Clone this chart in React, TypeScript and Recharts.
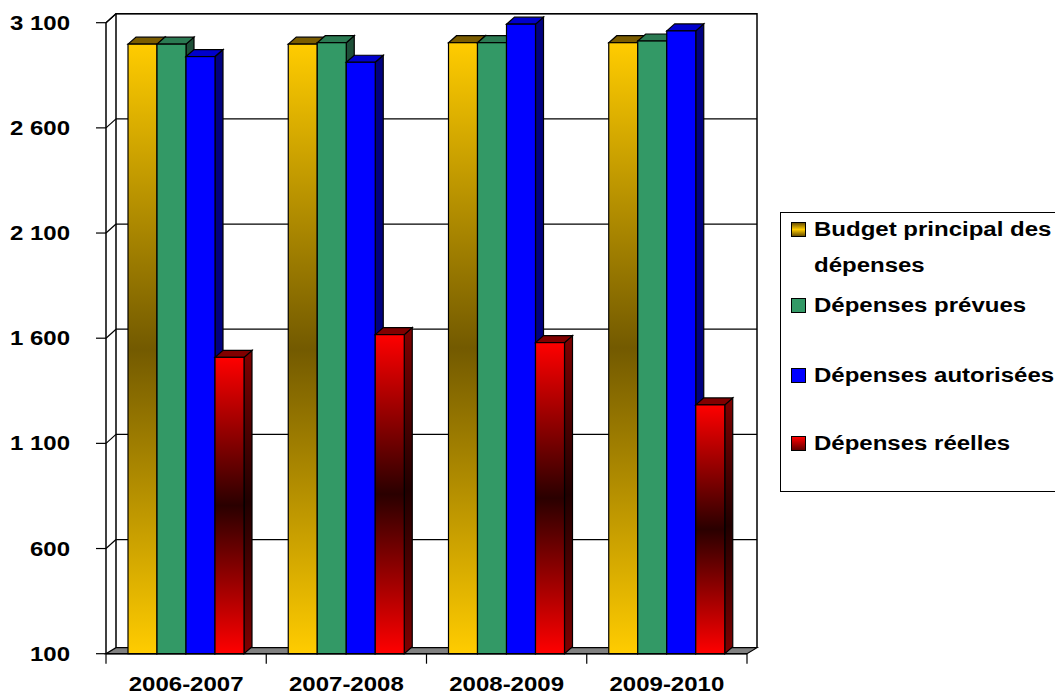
import React from "react";
import { BarChart, Bar, XAxis, YAxis, CartesianGrid, ReferenceArea } from "recharts";

const CATEGORIES = ["2006-2007", "2007-2008", "2008-2009", "2009-2010"];
const BUDGET = [2998, 2998, 3005, 3005];
const PREVUES = [2998, 3005, 3005, 3013];
const AUTORISEES = [2939, 2912, 3093, 3061];
const REELLES = [1509, 1617, 1579, 1283];
const Y_TICKS = [100, 600, 1100, 1600, 2100, 2600, 3100];

const SERIES = [
  {
    key: "budget",
    name: "Budget principal des\ndépenses",
    front: ["#FFCC00", "#735A00", "#FFCC00"],
    top: "#7A5C00",
    side: ["#806000", "#3A2A00", "#806000"],
    swatch: "linear-gradient(#6B5000, #FFCC00, #6B5000)",
  },
  {
    key: "prevues",
    name: "Dépenses prévues",
    front: ["#339966", "#339966", "#339966"],
    top: "#2B7A52",
    side: ["#1E5038", "#1E5038", "#1E5038"],
    swatch: "#339966",
  },
  {
    key: "autorisees",
    name: "Dépenses autorisées",
    front: ["#0000FF", "#0000FF", "#0000FF"],
    top: "#0000CC",
    side: ["#000080", "#000080", "#000080"],
    swatch: "#0000FF",
  },
  {
    key: "reelles",
    name: "Dépenses réelles",
    front: ["#FF0000", "#2A0000", "#FF0000"],
    top: "#800000",
    side: ["#800000", "#200000", "#800000"],
    swatch: "linear-gradient(#FF0000, #600000)",
  },
];

const data = CATEGORIES.map((c, i) => ({
  name: c,
  budget: BUDGET[i],
  prevues: PREVUES[i],
  autorisees: AUTORISEES[i],
  reelles: REELLES[i],
}));

const FONT = "'Liberation Sans', Arial, sans-serif";
const SX = 1.2; // text in the original is stretched horizontally
const DX = 10; // back wall depth
const DY = 9;
const FLOOR_DY = 6;
const BD = 8; // bar depth
const BE = 7;

const fmt = (v: number) => String(v).replace(/\B(?=(\d{3})+(?!\d))/g, " ");

function makeBarShape(s: (typeof SERIES)[number]) {
  return (props: any) => {
    const { x, y, width: w, height: h } = props;
    if (w == null || h == null) return null;
    return (
      <g>
        <defs>
          <linearGradient id={`front-${s.key}`} x1="0" y1="0" x2="0" y2="1">
            <stop offset="0%" stopColor={s.front[0]} />
            <stop offset="50%" stopColor={s.front[1]} />
            <stop offset="100%" stopColor={s.front[2]} />
          </linearGradient>
          <linearGradient id={`side-${s.key}`} x1="0" y1="0" x2="0" y2="1">
            <stop offset="0%" stopColor={s.side[0]} />
            <stop offset="50%" stopColor={s.side[1]} />
            <stop offset="100%" stopColor={s.side[2]} />
          </linearGradient>
        </defs>
        <polygon
          points={`${x + w},${y} ${x + w + BD},${y - BE} ${x + w + BD},${y + h - BE} ${x + w},${y + h}`}
          fill={`url(#side-${s.key})`}
          stroke="#000"
          strokeWidth={1.2}
        />
        <polygon
          points={`${x},${y} ${x + BD},${y - BE} ${x + w + BD},${y - BE} ${x + w},${y}`}
          fill={s.top}
          stroke="#000"
          strokeWidth={1.2}
        />
        <rect x={x} y={y} width={w} height={h} fill={`url(#front-${s.key})`} stroke="#000" strokeWidth={1.2} />
      </g>
    );
  };
}

const BackWall = (props: any) => {
  const { x, y, width: w, height: h } = props;
  const bottom = y + h;
  return (
    <g>
      <path
        d={`M${x + DX},${bottom - FLOOR_DY} L${x + DX},${y - DY} L${x + w + DX},${y - DY} L${x + w + DX},${bottom - FLOOR_DY}`}
        fill="none"
        stroke="#000"
        strokeWidth={1.5}
      />
      <line x1={x} y1={y} x2={x + DX} y2={y - DY} stroke="#000" strokeWidth={1.2} />
      <polygon
        points={`${x},${bottom} ${x + w},${bottom} ${x + w + DX},${bottom - FLOOR_DY} ${x + DX},${bottom - FLOOR_DY}`}
        fill="#808080"
        stroke="#000"
        strokeWidth={1.2}
      />
    </g>
  );
};

const GridLine = (props: any) => {
  const { x1, y1, x2, index } = props;
  if (index === 0) return <g key={props.key} />;
  return (
    <g key={props.key}>
      <line x1={x1 + DX} y1={y1 - DY} x2={x2 + DX} y2={y1 - DY} stroke="#000" strokeWidth={1.2} />
      <line x1={x1} y1={y1} x2={x1 + DX} y2={y1 - DY} stroke="#000" strokeWidth={1.2} />
    </g>
  );
};

const YTick = (props: any) => {
  const { x, y, payload } = props;
  return (
    <g transform={`translate(${x},${y})`}>
      <text transform={`scale(${SX},1)`} textAnchor="end" dy={7} fontFamily={FONT} fontWeight="bold" fontSize={20} fill="#000">
        {fmt(payload.value)}
      </text>
    </g>
  );
};

const XTick = (props: any) => {
  const { x, y, payload, index, visibleTicksCount } = props;
  const half = payload.offset || 80;
  const last = index === (visibleTicksCount ?? CATEGORIES.length) - 1;
  return (
    <g>
      <line x1={x - half} y1={y - 10} x2={x - half} y2={y} stroke="#000" strokeWidth={1.2} />
      {last && <line x1={x + half} y1={y - 10} x2={x + half} y2={y} stroke="#000" strokeWidth={1.2} />}
      <g transform={`translate(${x},${y})`}>
        <text transform={`scale(${SX},1)`} textAnchor="middle" dy={27.5} fontFamily={FONT} fontWeight="bold" fontSize={20} fill="#000">
          {payload.value}
        </text>
      </g>
    </g>
  );
};

const LEGEND_TOPS = [-2, 74, 144, 212];

function ChartLegend() {
  return (
    <div
      style={{
        position: "absolute",
        left: 780,
        top: 212,
        width: 300,
        height: 280,
        border: "1px solid #000",
        boxSizing: "border-box",
        fontFamily: FONT,
        fontWeight: "bold",
        fontSize: 20,
        lineHeight: "36px",
        color: "#000",
      }}
    >
      {SERIES.map((s, i) => (
        <div key={s.key} style={{ position: "absolute", left: 0, top: LEGEND_TOPS[i] }}>
          <div
            style={{
              position: "absolute",
              left: 10,
              top: 11,
              width: 13,
              height: 13,
              background: s.swatch,
              border: "1px solid #000",
            }}
          />
          <div
            style={{
              position: "absolute",
              left: 33,
              top: 0,
              whiteSpace: "pre",
              transform: `scaleX(${SX})`,
              transformOrigin: "left top",
            }}
          >
            {s.name}
          </div>
        </div>
      ))}
    </div>
  );
}

export default function App() {
  return (
    <div
      style={{
        position: "absolute",
        left: 0,
        top: 0,
        width: 1055,
        height: 696,
        overflow: "hidden",
        background: "#fff",
      }}
    >
      <BarChart
        width={1055}
        height={696}
        data={data}
        margin={{ top: 22.7, right: 308, bottom: 0, left: 0 }}
        barCategoryGap={22}
        barGap={0}
      >
        <ReferenceArea y1={100} y2={3100} shape={BackWall} />
        <CartesianGrid vertical={false} horizontal={GridLine} />
        <XAxis
          dataKey="name"
          height={42.3}
          tickLine={false}
          tickSize={10}
          tickMargin={0}
          axisLine={{ stroke: "#000", strokeWidth: 1.5 }}
          tick={<XTick />}
          interval={0}
        />
        <YAxis
          width={106}
          domain={[100, 3100]}
          ticks={Y_TICKS}
          interval={0}
          tickSize={10}
          tickMargin={26}
          tickLine={{ stroke: "#000", strokeWidth: 1.2 }}
          axisLine={{ stroke: "#000", strokeWidth: 1.5 }}
          tick={<YTick />}
        />
        {SERIES.map((s) => (
          <Bar key={s.key} dataKey={s.key} name={s.name} shape={makeBarShape(s)} isAnimationActive={false} />
        ))}
      </BarChart>
      <ChartLegend />
    </div>
  );
}
